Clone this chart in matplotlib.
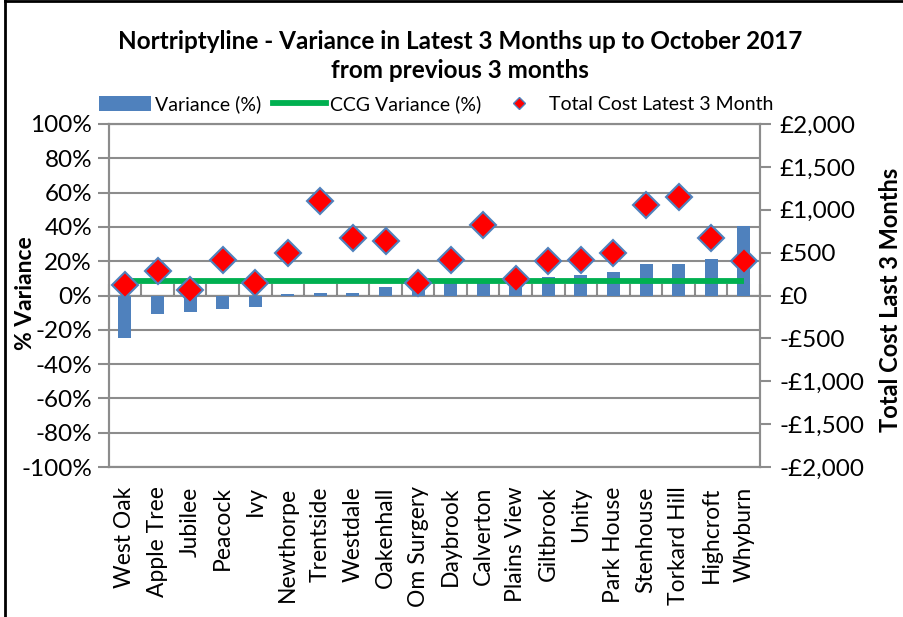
import matplotlib
matplotlib.use("Agg")
import matplotlib.pyplot as plt
from matplotlib.patches import Patch
from matplotlib.lines import Line2D
from matplotlib.ticker import FuncFormatter
import numpy as np

plt.rcParams['font.family'] = ['Lato', 'DejaVu Sans']

practices = ["West Oak", "Apple Tree", "Jubilee", "Peacock", "Ivy", "Newthorpe",
             "Trentside", "Westdale", "Oakenhall", "Om Surgery", "Daybrook",
             "Calverton", "Plains View", "Giltbrook", "Unity", "Park House",
             "Stenhouse", "Torkard Hill", "Highcroft", "Whyburn"]
variance_pct = [-24.5, -10.5, -9.5, -8.0, -6.8, 1.0, 1.2, 1.7, 4.7, 4.0, 8.0,
                8.0, 7.0, 11.0, 11.7, 13.6, 18.1, 18.1, 21.0, 40.4]
ccg_variance_pct = 8.3
total_cost = [117, 283, 66, 412, 140, 501, 1100, 676, 637, 140, 416, 824, 198,
              404, 412, 497, 1053, 1154, 665, 404]

BAR_BLUE = "#4F81BD"
GREEN = "#00B050"
GRID = "#8C8C8C"

W, H = 904, 617
fig = plt.figure(figsize=(W / 100, H / 100), dpi=100)
ax = fig.add_axes([108.7 / W, 1 - 467 / H, (760 - 108.7) / W, (467 - 124) / H])
ax2 = ax.twinx()

x = np.arange(len(practices))
ax.bar(x, variance_pct, width=0.4, color=BAR_BLUE, zorder=2)
ax.plot(x, [ccg_variance_pct] * len(x), color=GREEN, lw=4.2, zorder=3,
        solid_capstyle='butt')
ax2.plot(x, total_cost, linestyle='none', marker='D', ms=13.5,
         markerfacecolor='#FF0000', markeredgecolor=BAR_BLUE, markeredgewidth=1.5,
         zorder=4)

ax.set_xlim(-0.5, len(practices) - 0.5)
ax.set_ylim(-100, 100)
ax2.set_ylim(-2000, 2000)

ax.set_yticks(np.arange(-100, 101, 20))
ax.yaxis.set_major_formatter(FuncFormatter(lambda v, p: f"{v:.0f}%"))
ax2.set_yticks(np.arange(-2000, 2001, 500))


def pounds(v, p):
    s = f"£{abs(v):,.0f}"
    return "-" + s if v < 0 else s


ax2.yaxis.set_major_formatter(FuncFormatter(pounds))

ax.yaxis.grid(True, color=GRID, lw=1.5, zorder=0)
ax.set_axisbelow(True)

for a in (ax, ax2):
    for s in a.spines.values():
        s.set_color(GRID)
        s.set_linewidth(1.5)
ax.tick_params(axis='y', length=8, width=1.5, color=GRID, labelsize=17.5, pad=4)
ax2.tick_params(axis='y', length=8, width=1.5, color=GRID, labelsize=17.5, pad=6)

# category labels under the plot
ax.set_xticks(x)
ax.set_xticklabels(practices, rotation=90, fontsize=16.5)
ax.tick_params(axis='x', length=0, pad=14)

# category axis along the zero line
zax = ax.secondary_xaxis(0.5)
zax.set_xticks(np.arange(-0.5, len(practices), 1.0))
zax.set_xticklabels([])
zax.tick_params(axis='x', length=8, width=1.5, color=GRID, direction='out')
zax.spines['bottom'].set_color(GRID)
zax.spines['bottom'].set_linewidth(1.5)

fig.text(460 / W, 1 - 56 / H,
         "Nortriptyline - Variance in Latest 3 Months up to October 2017\nfrom previous 3 months",
         ha='center', va='center', fontsize=17.5, fontweight='bold', linespacing=1.3)

fig.text(26 / W, 1 - 293 / H, "% Variance", rotation=90, ha='center', va='center',
         fontsize=16.5, fontweight='bold')
fig.text(891 / W, 1 - 300 / H, "Total Cost Last 3 Months", rotation=90,
         ha='center', va='center', fontsize=17, fontweight='bold')

handles = [Patch(facecolor=BAR_BLUE, edgecolor='none'),
           Line2D([], [], color=GREEN, lw=4.2),
           Line2D([], [], linestyle='none', marker='D', ms=6,
                  markerfacecolor='#FF0000', markeredgecolor=BAR_BLUE, markeredgewidth=1)]
fig.legend(handles, ["Variance (%)", "CCG Variance (%)", "Total Cost Latest 3 Month"],
           loc='center', bbox_to_anchor=(436 / W, 1 - 104 / H), ncol=3, frameon=False,
           fontsize=14, handlelength=2.7, handleheight=0.8, handletextpad=0.2,
           columnspacing=0.6, borderpad=0)

# chart frame edges
fig.add_artist(Line2D([5 / W, 5 / W], [0, 1], transform=fig.transFigure,
                      color='black', lw=2))
fig.add_artist(Line2D([5 / W, 1], [1 - 1 / H, 1 - 1 / H], transform=fig.transFigure,
                      color='black', lw=2))

fig.savefig("out.png", dpi=100)
